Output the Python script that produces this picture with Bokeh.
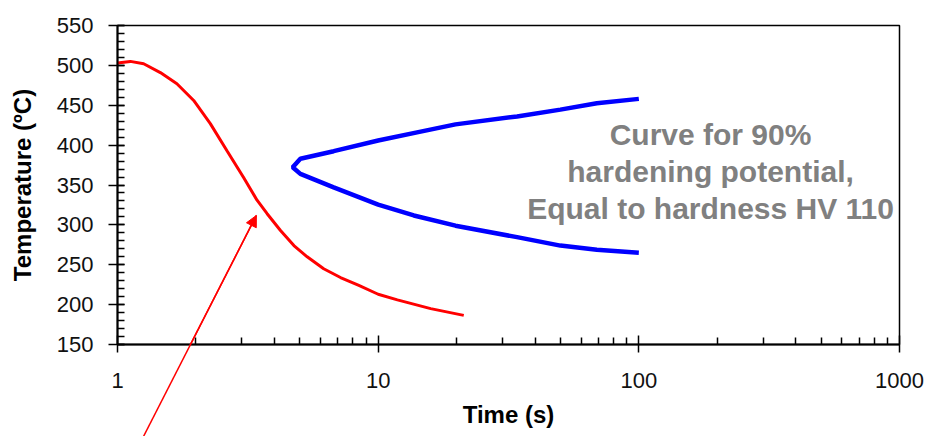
from bokeh.plotting import figure
from bokeh.models import FixedTicker, Label, Arrow, NormalHead
from bokeh.embed import file_html
from bokeh.resources import INLINE

# Red cooling curve (time s, temperature °C)
red_t = [1, 1.12, 1.26, 1.46, 1.69, 1.96, 2.27, 2.63, 3.05, 3.43, 3.75, 4.22, 4.75,
         5.34, 6.18, 7.17, 8.43, 10, 11.85, 15.9, 21.3]
red_T = [503, 505, 502, 491, 477, 456, 427, 393, 359, 331, 314, 293, 274,
         260, 245, 234, 224, 213, 206, 195, 186.5]

# Blue curve for 90% hardening potential
blue_t = [100, 69, 50, 34.1, 19.8, 14.1, 10, 6.75, 5.03, 4.7, 5.03, 6.75, 10,
          13.7, 19.8, 34.1, 50, 69, 100]
blue_T = [458, 452.6, 444.5, 436, 426, 416, 405.8, 392.4, 383, 372.3, 364, 347, 325.5,
          311.8, 299, 284.6, 274, 268.8, 265]

x_major = [1, 10, 100, 1000]
y_major = [150, 200, 250, 300, 350, 400, 450, 500, 550]
y_minor = list(range(150, 551, 10))
x_minor = [m * d for d in (1, 10, 100) for m in range(2, 10)]

note_lines = ["Curve for 90%", "hardening potential,", "Equal to hardness HV 110"]

FONT = "Liberation Sans"

p = figure(width=927, height=436, x_axis_type="log", x_range=(1, 1000), y_range=(150, 550),
           output_backend="svg", toolbar_location=None,
           min_border_left=117, min_border_right=28, min_border_top=25, min_border_bottom=92)

p.xgrid.visible = False
p.ygrid.visible = False
p.outline_line_color = "black"
p.outline_line_width = 1.5
p.background_fill_color = "white"
p.border_fill_color = "white"

p.xaxis.ticker = FixedTicker(ticks=x_major, minor_ticks=x_minor)
p.yaxis.ticker = FixedTicker(ticks=y_major, minor_ticks=y_minor)
p.xaxis.major_label_overrides = {1: "1", 10: "10", 100: "100", 1000: "1000"}

for ax in (p.xaxis[0], p.yaxis[0]):
    ax.axis_line_color = "black"
    ax.axis_line_width = 2
    ax.major_tick_line_color = "black"
    ax.major_tick_line_width = 1.5
    ax.minor_tick_line_color = "black"
    ax.minor_tick_line_width = 1.5
    ax.major_label_text_font = FONT
    ax.major_label_text_font_size = "22px"
    ax.major_label_text_color = "#111111"
    ax.axis_label_text_font = FONT
    ax.axis_label_text_font_style = "bold"
    ax.axis_label_text_font_size = "24px"
    ax.axis_label_text_color = "black"

p.xaxis.major_tick_in = 9
p.xaxis.major_tick_out = 8
p.xaxis.minor_tick_in = 7
p.xaxis.minor_tick_out = 0
p.xaxis.major_label_standoff = 20
p.xaxis.axis_label = "Time (s)"
p.xaxis.axis_label_standoff = 10

p.yaxis.major_tick_in = 7
p.yaxis.major_tick_out = 9
p.yaxis.minor_tick_in = 7
p.yaxis.minor_tick_out = 0
p.yaxis.major_label_standoff = 15
p.yaxis.axis_label = "Temperature (ºC)"
p.yaxis.axis_label_standoff = 18

p.line(red_t, red_T, line_color="#FF0000", line_width=3)
p.line(blue_t, blue_T, line_color="#0000FF", line_width=4.5)

# pointer arrow (starts below the plot frame)
arrow_start = (1.258, 34.6)
arrow_end = (3.41, 311.8)
p.segment(x0=[arrow_start[0]], y0=[arrow_start[1]], x1=[arrow_end[0]], y1=[arrow_end[1]],
          line_color="#FF0000", line_width=1.5, level="overlay")
arrow = Arrow(x_start=arrow_start[0], y_start=arrow_start[1], x_end=arrow_end[0], y_end=arrow_end[1],
              line_color="#FF0000", line_width=1.5, level="overlay",
              end=NormalHead(size=11, fill_color="#FF0000", line_color="#FF0000"))
p.add_layout(arrow)

for i, txt in enumerate(note_lines):
    p.add_layout(Label(x=188.4, y=413.5 - 46.4 * i, text=txt, text_align="center",
                       text_baseline="alphabetic", text_font=FONT, text_font_style="bold",
                       text_font_size="30px", text_color="#808080"))

open("out.html", "w").write(file_html(p, INLINE))
